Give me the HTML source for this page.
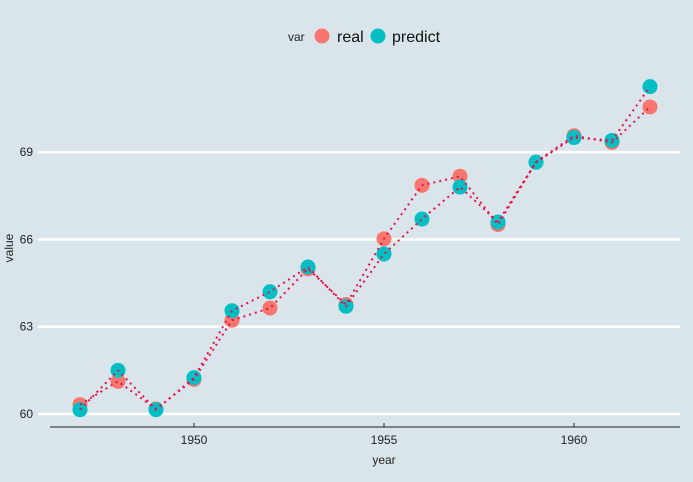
<!DOCTYPE html>
<html><head><meta charset="utf-8"><style>
body{margin:0;background:#d9e5eb;}
svg{display:block;font-family:"Liberation Sans",sans-serif;}
</style></head><body>
<svg id="c" width="693" height="482">
<rect width="693" height="482" fill="#d9e5eb"/>
<g id="grid"></g><g id="pts"></g><g id="lines"></g><g id="axes"></g>
<g>
<text x="288" y="41" font-size="12" fill="#222">var</text>
<circle cx="322" cy="36" r="7.5" fill="#f8766d"/>
<text x="337" y="42" font-size="16" fill="#111">real</text>
<circle cx="378" cy="36" r="7.5" fill="#00bfc4"/>
<text x="392" y="42" font-size="16" fill="#111">predict</text>
</g>
<text x="384" y="464" font-size="12" text-anchor="middle" fill="#222">year</text>
<text transform="translate(13,248) rotate(-90)" font-size="12" text-anchor="middle" fill="#222">value</text>
</svg>
<script>
const years=[1947,1948,1949,1950,1951,1952,1953,1954,1955,1956,1957,1958,1959,1960,1961,1962];
const real=[60.323,61.122,60.171,61.187,63.221,63.639,64.989,63.761,66.019,67.857,68.169,66.513,68.655,69.564,69.331,70.551];
const predict=[60.15,61.5,60.15,61.25,63.55,64.2,65.05,63.7,65.5,66.7,67.8,66.6,68.65,69.5,69.4,71.25];
const xTicks=[1950,1955,1960];
const yTicks=[60,63,66,69];
const NS="http://www.w3.org/2000/svg";
const X=v=>194+(v-1950)*38;
const Y=v=>414-(v-60)*29.1;
function mk(t,a,p){const e=document.createElementNS(NS,t);for(const k in a)e.setAttribute(k,a[k]);p.appendChild(e);return e;}
const grid=document.getElementById('grid'),axes=document.getElementById('axes'),pts=document.getElementById('pts'),lines=document.getElementById('lines');
yTicks.forEach(v=>{
 const l=mk('line',{x1:38,x2:680,y1:Y(v),y2:Y(v),stroke:'#fff','stroke-width':2.5},grid);
 
 
 const t=mk('text',{x:33,y:Y(v)+4,'font-size':12,'text-anchor':'end',fill:'#222'},axes);
 t.textContent=v;
 
 
});
const ax=mk('line',{x1:50,x2:680,y1:427,y2:427,stroke:'#222','stroke-width':1},axes);


xTicks.forEach(v=>{
 const tk=mk('line',{x1:X(v),x2:X(v),y1:423,y2:427,stroke:'#222'},axes);
 
 
 const t=mk('text',{x:X(v),y:444,'font-size':12,'text-anchor':'middle',fill:'#222'},axes);
 t.textContent=v;
 
 
});
[[real,'#f8766d','real'],[predict,'#00bfc4','predict']].forEach(([d,c,n])=>{
 d.forEach((v,i)=>{
  const p=mk('circle',{cx:X(years[i]),cy:Y(v),r:7.5,fill:c},pts);
  
  
 });
 const pl=mk('polyline',{points:d.map((v,i)=>X(years[i])+','+Y(v)).join(' '),fill:'none',stroke:'#e8104a','stroke-width':2,'stroke-dasharray':'2 4'},lines);
 
 
});
</script>
</body></html>
